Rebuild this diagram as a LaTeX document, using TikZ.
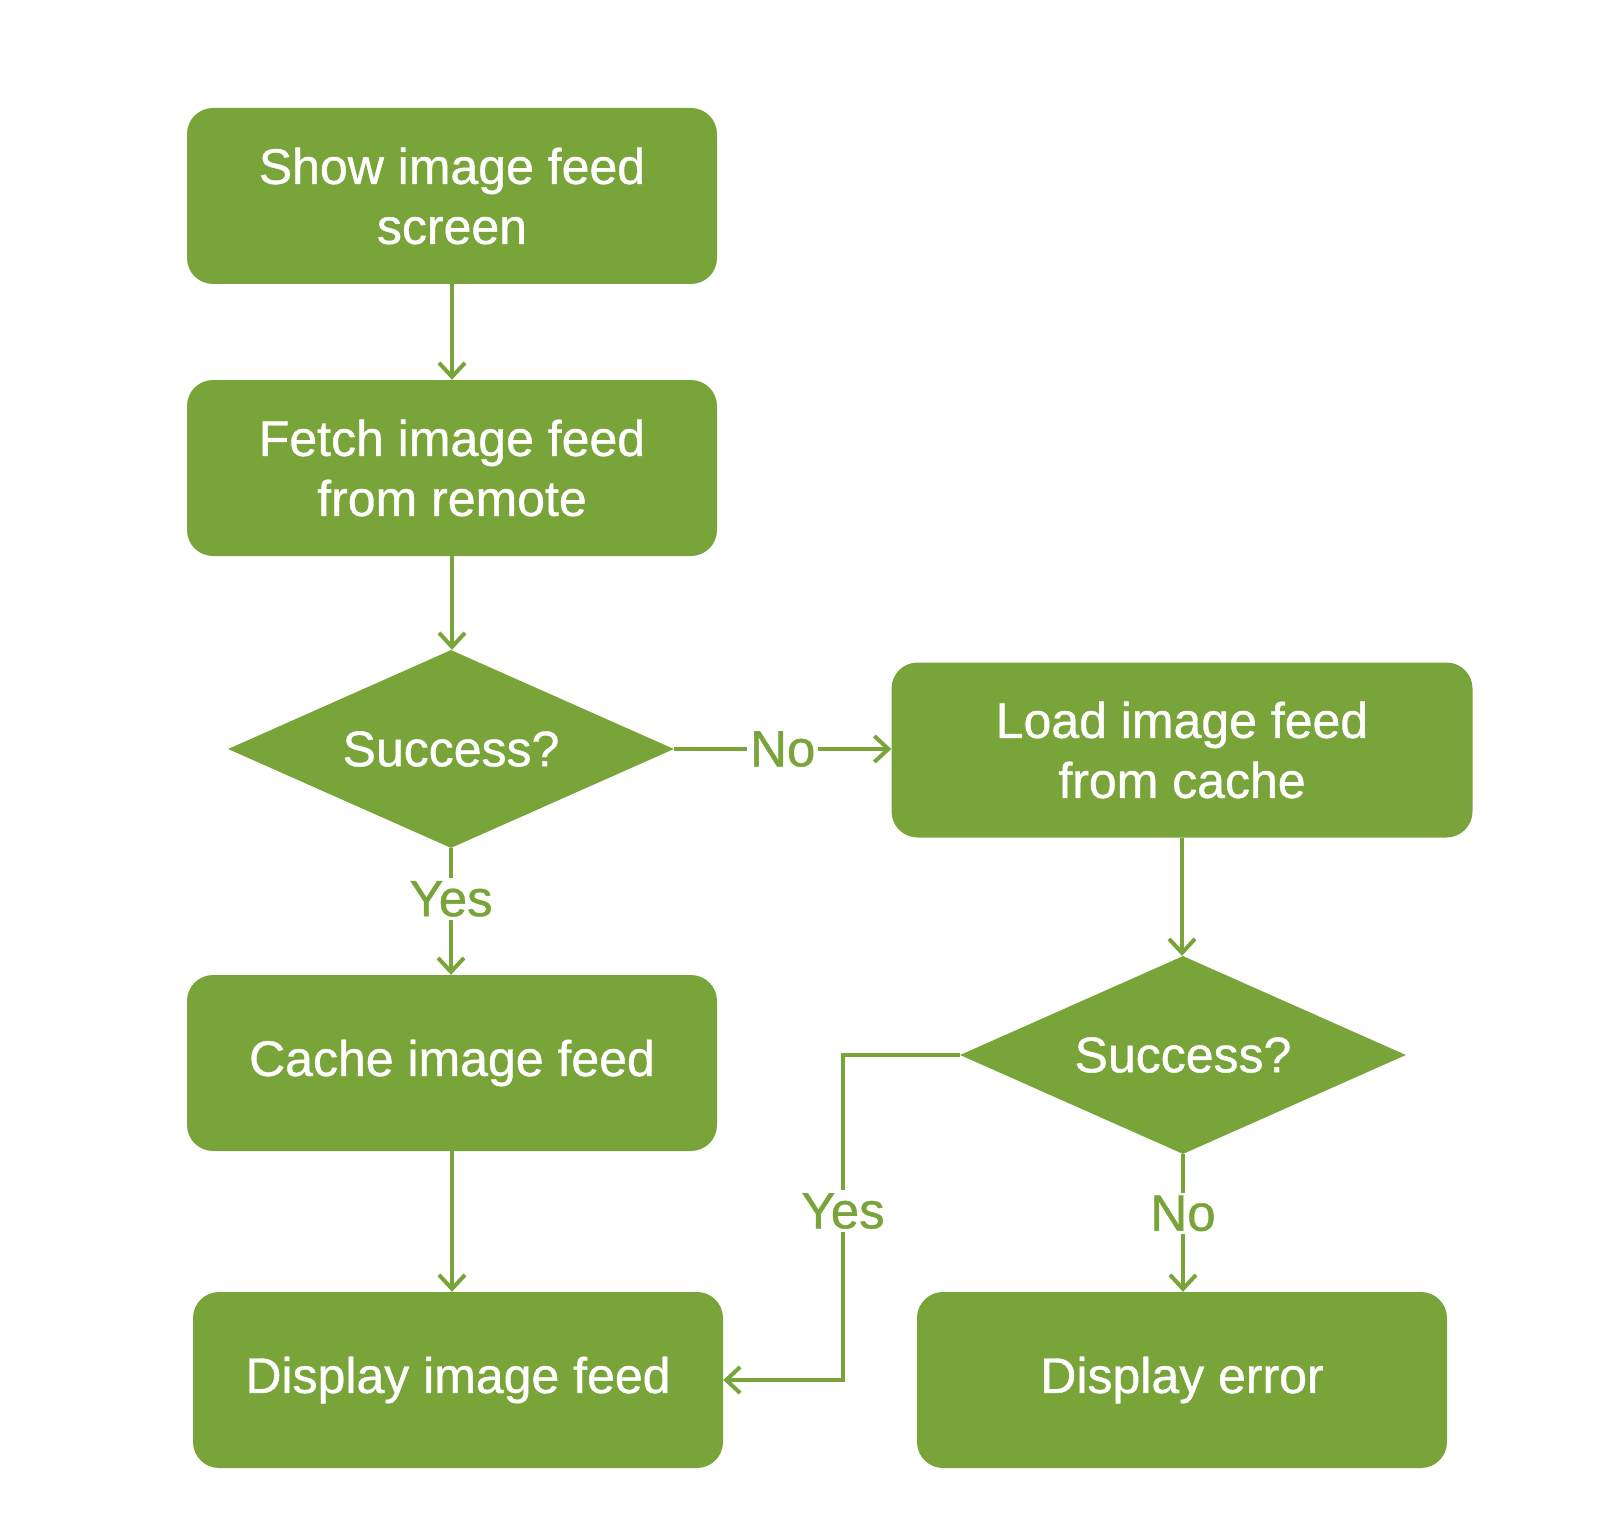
\documentclass[tikz,border=0pt]{standalone}
\usepackage{fontspec}
\setmainfont{Liberation Sans}
\newfontfamily\heavysans{Liberation Sans}[FakeBold=0.8]
\usetikzlibrary{shapes.geometric,arrows.meta}
\definecolor{leaf}{RGB}{121,164,57}
\begin{document}
\begin{tikzpicture}[x=1pt,y=-1pt,
 box/.style={fill=leaf, rounded corners=26pt, minimum width=530pt, minimum height=176pt, text=white, align=center, font=\fontsize{50}{60}\heavysans, inner sep=0pt},
 dec/.style={diamond, aspect=2.25, fill=leaf, minimum width=446pt, minimum height=198pt, inner sep=0pt, text=white, font=\fontsize{50}{60}\heavysans},
 conn/.style={draw=leaf, line width=4pt, -{Straight Barb[length=14pt,width=26pt]}},
 lab/.style={fill=white, text=leaf, font=\fontsize{51}{60}\heavysans, inner sep=3pt}]
\useasboundingbox (0,0) rectangle (1606,1538);
\node[box] (show) at (452,196) {Show image feed\\screen};
\node[box] (fetch) at (452,468) {Fetch image feed\\from remote};
\node[dec] (s1) at (451,749) {Success?};
\node[box, minimum width=581pt, minimum height=175pt] (load) at (1182,750) {Load image feed\\from cache};
\node[dec] (s2) at (1183,1055) {Success?};
\node[box] (cache) at (452,1063) {Cache image feed};
\node[box] (disp) at (458,1380) {Display image feed};
\node[box] (err) at (1182,1380) {Display error};
\coordinate (b1) at (843,1055);
\coordinate (b2) at (843,1380);
\draw[conn] (show) -- (fetch);
\draw[conn] (fetch.south) -- (fetch.south |- s1.north);
\draw[conn] (s1.east) -- node[lab]{No} (s1.east -| load.west);
\draw[conn] (s1.south) -- node[lab,pos=0.4]{Yes} (s1.south |- cache.north);
\draw[conn] (cache.south) -- (cache.south |- disp.north);
\draw[conn] (load.south) -- (load.south |- s2.north);
\draw[conn] (s2.south) -- node[lab,pos=0.43]{No} (s2.south |- err.north);
\draw[conn] (s2.west) -- (b1) -- node[lab,pos=0.48]{Yes} (b2) -- (disp.east);
\end{tikzpicture}
\end{document}
